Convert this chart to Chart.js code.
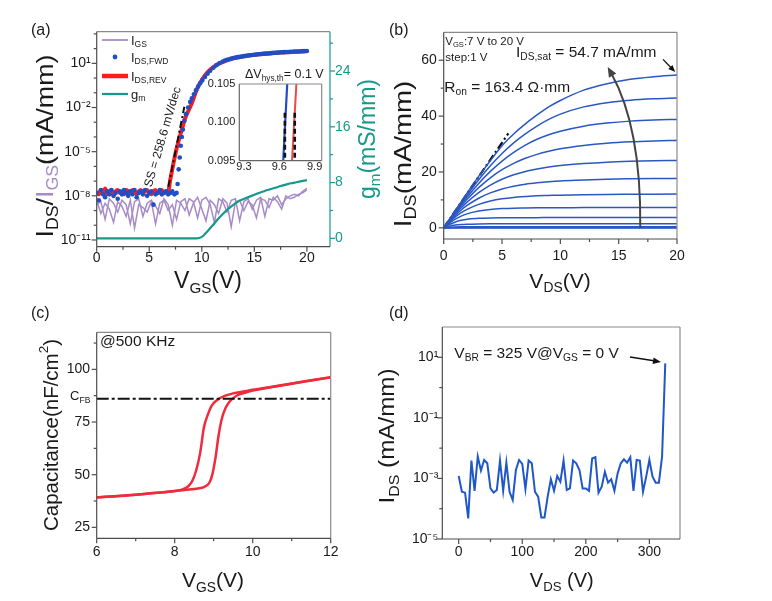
<!DOCTYPE html>
<html>
<head>
<meta charset="utf-8">
<title>Device characteristics</title>
<script src="https://cdn.jsdelivr.net/npm/chart.js@4.4.1/dist/chart.umd.min.js"></script>
<style>
  html, body { margin: 0; padding: 0; background: #fff; }
  #fig { position: relative; width: 772px; height: 601px; overflow: hidden; }
  #fig canvas { position: absolute; }
</style>
</head>
<body>
<div id="fig">
  <canvas id="chartA" width="386" height="300" style="left:0;top:0;width:386px;height:300px"></canvas>
  <canvas id="chartIns" width="140" height="125" style="left:195px;top:55px;width:140px;height:125px"></canvas>
  <canvas id="chartB" width="386" height="300" style="left:386px;top:0;width:386px;height:300px"></canvas>
  <canvas id="chartC" width="386" height="301" style="left:0;top:300px;width:386px;height:301px"></canvas>
  <canvas id="chartD" width="406" height="301" style="left:366px;top:300px;width:406px;height:301px"></canvas>
</div>
<script>
'use strict';

/* ---------- panel (a): transfer curves, log I vs VGS ---------- */
const aRevV = [0,0.2,0.4,0.6,0.8,1,1.2,1.4,1.6,1.8,2,2.2,2.4,2.6,2.8,3,3.2,3.4,3.6,3.8,4,4.2,4.4,4.6,4.8,5,5.2,5.4,5.6,5.8,6,6.2,6.4,6.6,6.8,
  7.0,7.3,7.6,8.1,8.4,9.05,9.5,10.0,10.6,11.4,12.2,13.0,14,15,16.2,17.5,18.8,20];
const aRevLog = [-7.7,-7.9,-7.6,-7.8,-7.5,-7.9,-7.7,-7.6,-8.0,-7.7,-7.6,-7.8,-7.7,-7.9,-7.6,-7.7,-7.8,-7.6,-7.7,-7.9,-7.7,-7.6,-7.8,-7.7,-7.6,-7.8,-7.9,-7.7,-7.6,-7.8,-7.7,-7.6,-7.8,-7.7,-7.7,
  -6.9,-5.8,-4.8,-3.5,-2.75,-1.72,-0.81,-0.13,0.43,0.89,1.15,1.34,1.48,1.58,1.66,1.73,1.78,1.82];

const aFwdV = [0,0.2,0.4,0.6,0.8,1,1.2,1.4,1.6,1.8,2,2.2,2.4,2.6,2.8,3,3.2,3.4,3.6,3.8,4,4.2,4.4,4.6,4.8,5,5.2,5.4,5.6,5.8,6,6.2,6.4,6.6,6.8,7,7.2,7.4,7.6,
  7.7,7.8,7.9,8.0,8.1,8.2,8.35,8.5,8.7,8.9,9.05,9.25,9.45,9.65,9.85,10.05,10.3,10.55,10.8,11.1,11.4,11.7,12.0,
  12.2,12.4,12.6,12.8,13,13.2,13.4,13.6,13.8,14,14.2,14.4,14.6,14.8,15,15.2,15.4,15.6,15.8,16,16.2,16.4,16.6,16.8,17,17.2,17.4,17.6,17.8,18,18.2,18.4,18.6,18.8,19,19.2,19.4,19.6,19.8,20];
const aFwdLog = [-7.8,-8.3,-7.6,-7.9,-8.1,-7.7,-7.9,-7.6,-8.0,-7.8,-8.2,-7.7,-7.9,-7.6,-7.8,-8.0,-7.7,-7.9,-7.6,-8.1,-7.8,-7.7,-7.9,-7.6,-8.0,-7.8,-7.7,-8.6,-7.9,-7.8,-7.6,-7.9,-7.8,-7.7,-7.9,-7.8,-7.7,-7.9,-7.8,
  -7.2,-6.2,-5.4,-4.6,-4.0,-3.5,-2.9,-2.45,-2.0,-1.62,-1.38,-1.1,-0.82,-0.58,-0.36,-0.16,0.08,0.3,0.5,0.7,0.88,1.02,1.13,
  1.19,1.24,1.28,1.32,1.36,1.39,1.42,1.44,1.47,1.49,1.51,1.53,1.55,1.57,1.585,1.6,1.615,1.63,1.645,1.66,1.67,1.68,1.695,1.71,1.72,1.73,1.74,1.75,1.76,1.77,1.775,1.78,1.79,1.80,1.805,1.81,1.82,1.83,1.835,1.84];

const aGsV = [0,0.4,0.8,1.2,1.6,2,2.4,2.8,3.2,3.6,4,4.4,4.8,5.2,5.6,6,6.4,6.8,7.2,7.6,8,8.4,8.8,9.2,9.6,10,10.4,10.8,11.2,11.6,12,12.4,12.8,13.2,13.6,14,14.4,14.8,15.2,15.6,16,16.4,16.8,17.2,17.6,18,18.4,18.8,19.2,19.6,20];
const aGs1Log = [-8.3,-9.2,-8.5,-8.9,-9.8,-8.4,-8.7,-9.4,-8.3,-10.2,-8.6,-8.8,-9.1,-8.4,-9.9,-8.5,-8.3,-9.0,-8.6,-9.6,-8.4,-8.2,-9.3,-8.5,-8.1,-8.9,-9.7,-8.3,-8.6,-9.2,
  -8.2,-8.5,-10.1,-8.4,-8.3,-9.0,-8.4,-8.6,-9.5,-8.2,-8.3,-8.8,-8.1,-8.4,-8.9,-8.0,-8.2,-8.1,-7.9,-7.8,-7.6];
const aGs2Log = [-8.6,-8.4,-9.6,-8.2,-8.5,-9.1,-8.3,-8.6,-9.9,-8.4,-8.2,-9.4,-8.5,-8.3,-8.7,-9.2,-8.2,-8.6,-10.0,-8.3,-8.5,-9.0,-8.2,-8.4,-9.5,-8.3,-8.1,-8.6,-9.8,-8.2,
  -8.4,-9.1,-8.3,-8.2,-9.7,-8.4,-8.2,-8.9,-8.3,-8.1,-9.4,-8.2,-8.3,-8.0,-8.6,-8.2,-8.0,-7.9,-8.0,-7.7,-7.5];

const aGmV = [0,1,2,3,4,5,6,7,8,9,9.5,10,10.5,11,11.5,12,12.5,13,13.5,14,14.5,15,15.5,16,16.5,17,17.5,18,18.5,19,19.5,20];
const aGm = [0,0,0,0,0,0,0,0,0,0,0,0.2,0.95,1.8,2.7,3.5,4.2,4.8,5.3,5.65,5.95,6.25,6.55,6.8,7.05,7.25,7.5,7.7,7.9,8.05,8.2,8.35];

const aSsV = [6.82, 8.34];
const aSsLog = [-7.38, -1.95];

const aXMajor = [0,5,10,15,20], aXMinor = [2.5,7.5,12.5,17.5];
const aYMajor = [1e-11,1e-8,1e-5,1e-2,1e1];
const aYLabels = ['10⁻¹¹','10⁻⁸','10⁻⁵','10⁻²','10¹'];
const aYMinor = [1e-10,1e-9,1e-7,1e-6,1e-4,1e-3,1e-1,1,1e2,1e3];
const aGmMajor = [0,8,16,24], aGmMinor = [4,12,20,28];

/* inset of (a): hysteresis at threshold */
const insFwdV = [9.633, 9.667], insFwdI = [0.095, 0.105];
const insRevV = [9.708, 9.745], insRevI = [0.095, 0.105];
const insMark1V = [9.647, 9.647], insMark2V = [9.731, 9.731], insMarkI = [0.0954, 0.1013];
const insXMajor = [9.3,9.6,9.9], insXLabels = ['9.3','9.6','9.9'];
const insYMajor = [0.095,0.1,0.105], insYLabels = ['0.095','0.100','0.105'];

/* ---------- panel (b): output curves, VGS 7..20 V ---------- */
const bVds = [0,0.5,1,1.5,2,3,4,5,6,7,8,9,10,12,14,16,18,20];
const bI20 = [0,3.1,6.2,9.3,12.4,18.4,24.0,29.4,33.6,37.2,40.4,43.3,45.6,49.3,51.6,53.2,54.1,54.7];
const bI19 = [0,3.0,6.0,8.9,11.7,17.2,22.2,26.6,30.4,33.6,36.4,38.8,40.7,43.3,44.8,45.7,46.2,46.5];
const bI18 = [0,2.9,5.7,8.4,11.0,15.9,20.2,23.9,27.0,29.6,31.7,33.3,34.6,36.4,37.5,38.2,38.6,38.8];
const bI17 = [0,2.8,5.4,7.9,10.2,14.4,17.9,20.8,23.1,24.9,26.3,27.4,28.3,29.5,30.3,30.8,31.1,31.3];
const bI16 = [0,2.6,5.0,7.2,9.2,12.6,15.3,17.4,19.0,20.2,21.1,21.8,22.3,23.0,23.5,23.8,24.0,24.1];
const bI15 = [0,2.4,4.5,6.4,8.0,10.6,12.5,13.9,14.9,15.6,16.1,16.5,16.8,17.1,17.4,17.55,17.65,17.7];
const bI14 = [0,2.1,3.9,5.4,6.6,8.4,9.6,10.4,10.9,11.2,11.5,11.6,11.7,11.85,11.95,12.0,12.05,12.1];
const bI13 = [0,1.7,3.1,4.2,5.0,6.0,6.6,6.9,7.05,7.1,7.15,7.2,7.2,7.25,7.25,7.3,7.3,7.3];
const bI12 = [0,1.2,2.1,2.7,3.1,3.4,3.55,3.6,3.62,3.64,3.65,3.66,3.67,3.68,3.69,3.7,3.7,3.7];
const bI11 = [0,0.6,1.0,1.2,1.3,1.4,1.45,1.47,1.48,1.49,1.5,1.5,1.5,1.5,1.5,1.5,1.5,1.5];
const bI10 = [0,0.2,0.3,0.35,0.38,0.4,0.4,0.4,0.4,0.4,0.4,0.4,0.4,0.4,0.4,0.4,0.4,0.4];
const bI9  = [0,0.05,0.08,0.1,0.1,0.1,0.1,0.1,0.1,0.1,0.1,0.1,0.1,0.1,0.1,0.1,0.1,0.1];
const bI8  = [0,0,0,0,0,0,0,0,0,0,0,0,0,0,0,0,0,0];
const bI7  = [0,0,0,0,0,0,0,0,0,0,0,0,0,0,0,0,0,0];
const bCurves = [bI7,bI8,bI9,bI10,bI11,bI12,bI13,bI14,bI15,bI16,bI17,bI18,bI19,bI20];
const bRonV = [0, 5.54], bRonI = [0, 33.8];
const bXMajor = [0,5,10,15,20], bXMinor = [2.5,7.5,12.5,17.5];
const bYMajor = [0,20,40,60], bYMinor = [10,30,50];

/* ---------- panel (c): C-V hysteresis ---------- */
const cUpV = [6,6.5,7,7.5,8,8.2,8.35,8.45,8.55,8.65,8.75,8.85,8.95,9.1,9.3,9.5,9.8,10,10.5,11,11.5,12];
const cUpC = [39.3,39.8,40.5,41.3,42.3,43.0,44.5,47.0,52.0,60.0,72.5,78.5,82.8,85.6,87.5,88.6,89.6,90.3,91.8,93.3,94.8,96.3];
const cDnV = [6,7,8,8.3,8.5,8.7,8.8,8.9,8.97,9.05,9.12,9.2,9.3,9.42,9.6,9.8,10,10.5,11,11.5,12];
const cDnC = [39.3,40.5,42.2,42.8,43.2,43.8,44.6,46.5,50.5,58.5,68.0,76.0,81.5,85.0,87.6,88.9,89.9,91.6,93.2,94.7,96.2];
const cFbV = [6, 12], cFbC = [86, 86];
const cXMajor = [6,8,10,12], cXMinor = [7,9,11];
const cYMajor = [25,50,75,100], cYMinor = [37.5,62.5,87.5,112.5];

/* ---------- panel (d): off-state breakdown ---------- */
const dV = [0,5,10,15,20,25,30,35,40,45,50,55,60,65,70,75,80,85,90,95,100,105,110,115,120,125,130,135,140,145,150,155,160,165,170,175,180,185,190,195,
  200,205,210,215,220,225,230,235,240,245,250,255,260,265,270,275,280,285,290,295,300,305,310,315,320,325];
const dLog = [-2.92,-3.44,-3.47,-4.32,-2.41,-3.41,-2.28,-2.74,-2.39,-2.5,-3.33,-3.47,-3.38,-2.41,-3.41,-2.48,-3.44,-3.71,-2.72,-2.39,
  -2.52,-3.35,-2.41,-2.5,-3.44,-3.6,-4.29,-4.29,-3.6,-3.03,-3.41,-2.92,-3.11,-2.41,-3.38,-3.33,-2.41,-2.5,-2.72,-3.33,
  -3.33,-3.41,-2.34,-2.3,-3.47,-3.27,-2.78,-3.14,-3.03,-3.41,-2.84,-2.5,-2.37,-2.48,-2.3,-3.41,-2.39,-2.41,-3.44,-2.94,
  -2.39,-2.94,-3.14,-3.14,-2.28,0.8];
const dXMajor = [0,100,200,300], dXMinor = [50,150,250];
const dYMajor = [1e-5,1e-3,1e-1,1e1], dYLabels = ['10⁻⁵','10⁻³','10⁻¹','10¹'];
const dYMinor = [1e-4,1e-2,1];

/* ---------- style ---------- */
const FONT = '"Liberation Sans", Arial, Helvetica, sans-serif';
const INK = '#1a1a1a', AXIS = '#4d4d4d', GREY = '#8a8a8a';
const PURPLE = '#a68bc7', BLUE = '#1f4fc6', RED = '#ff1c1c', TEAL = '#16998b';
const BLUE_B = '#2a57c4', RED_C = '#ef2b3c', BLUE_D = '#2057c8';

Chart.defaults.font.family = FONT;
Chart.defaults.font.size = 14;
Chart.defaults.color = INK;

const xy = (xs, ys) => xs.map((x, i) => ({ x, y: ys[i] }));
const xyLog = (xs, es) => xs.map((x, i) => ({ x, y: Math.pow(10, es[i]) }));

function axis(o) {
  return {
    type: o.type || 'linear', position: o.pos, min: o.min, max: o.max,
    afterBuildTicks: s => { s.ticks = o.major.map(v => ({ value: v })); },
    afterFit: s => { if (o.pos === 'bottom') s.height = o.fit; else s.width = o.fit; },
    grid: { display: false, drawTicks: false },
    border: { display: false },
    ticks: {
      autoSkip: false, maxRotation: 0, padding: o.pad, color: o.color || INK,
      font: { size: o.size || 14 },
      callback: (v, i) => (o.labels ? o.labels[i] : String(v))
    }
  };
}

function rich(ctx, t) {
  const S = t.size || 14;
  let w = 0;
  const segs = t.parts.map(p => {
    const mode = p[1] || 'n';
    const fs = mode === 'n' ? S : S * 0.66;
    ctx.font = fs + 'px ' + FONT;
    const g = { s: p[0], fs, c: p[2] || t.color || INK, x: w,
      dy: mode === 'b' ? S * 0.3 : (mode === 'p' ? -S * 0.36 : 0) };
    w += ctx.measureText(p[0]).width;
    return g;
  });
  ctx.save();
  ctx.translate(t.x, t.y);
  if (t.rot) ctx.rotate(t.rot * Math.PI / 180);
  if (t.sx) ctx.scale(t.sx, 1);
  const x0 = t.align === 'left' ? 0 : -w / 2;
  ctx.textBaseline = 'middle';
  ctx.textAlign = 'left';
  segs.forEach(g => { ctx.font = g.fs + 'px ' + FONT; ctx.fillStyle = g.c; ctx.fillText(g.s, x0 + g.x, g.dy); });
  ctx.restore();
}

function arrow(chart, ar) {
  const ctx = chart.ctx, sx = chart.scales.x, sy = chart.scales.y;
  const P = p => [sx.getPixelForValue(p[0]), sy.getPixelForValue(p[1])];
  const p0 = P(ar.from), p2 = P(ar.to), p1 = ar.via ? P(ar.via) : p0;
  const ang = Math.atan2(p2[1] - p1[1], p2[0] - p1[0]);
  const L = ar.head || 9, H = L * 0.42, c = Math.cos(ang), s = Math.sin(ang);
  ctx.strokeStyle = ar.color; ctx.fillStyle = ar.color; ctx.lineWidth = ar.width || 1.5;
  ctx.beginPath();
  ctx.moveTo(p0[0], p0[1]);
  if (ar.via) ctx.quadraticCurveTo(p1[0], p1[1], p2[0] - L * 0.7 * c, p2[1] - L * 0.7 * s);
  else ctx.lineTo(p2[0] - L * 0.7 * c, p2[1] - L * 0.7 * s);
  ctx.stroke();
  ctx.beginPath();
  ctx.moveTo(p2[0], p2[1]);
  ctx.lineTo(p2[0] - L * c + H * s, p2[1] - L * s - H * c);
  ctx.lineTo(p2[0] - L * c - H * s, p2[1] - L * s + H * c);
  ctx.closePath();
  ctx.fill();
}

function deco(spec) {
  return {
    id: 'deco',
    beforeDatasetsDraw(chart) {
      if (!spec.fill) return;
      const a = chart.chartArea, ctx = chart.ctx;
      ctx.save(); ctx.fillStyle = spec.fill; ctx.fillRect(a.left, a.top, a.width, a.height); ctx.restore();
    },
    afterDraw(chart) {
      const ctx = chart.ctx, a = chart.chartArea;
      ctx.save();
      ctx.lineWidth = 1.2;
      const seg = (col, x1, y1, x2, y2) => {
        if (!col) return;
        ctx.strokeStyle = col; ctx.beginPath(); ctx.moveTo(x1, y1); ctx.lineTo(x2, y2); ctx.stroke();
      };
      const f = spec.frame || {};
      seg(f.top, a.left, a.top, a.right, a.top);
      seg(f.right, a.right, a.top, a.right, a.bottom);
      seg(f.bottom, a.left, a.bottom, a.right, a.bottom);
      seg(f.left, a.left, a.top, a.left, a.bottom);
      (spec.ticks || []).forEach(t => {
        const sc = chart.scales[t.axis], col = t.color || AXIS;
        const mark = (v, len) => {
          const p = sc.getPixelForValue(v);
          if (t.side === 'bottom') seg(col, p, a.bottom, p, a.bottom + len);
          else if (t.side === 'left') seg(col, a.left - len, p, a.left, p);
          else seg(col, a.right, p, a.right + len, p);
        };
        t.major.forEach(v => mark(v, 5));
        (t.minor || []).forEach(v => mark(v, 3));
      });
      (spec.arrows || []).forEach(ar => arrow(chart, ar));
      if (spec.extra) spec.extra(chart, ctx);
      (spec.texts || []).forEach(t => rich(ctx, t));
      ctx.restore();
    }
  };
}

function opts(box, W, scales, rightAxis) {
  return {
    responsive: false, animation: false, events: [],
    layout: { padding: { top: box.t, right: rightAxis ? 0 : W - box.r, left: 0, bottom: 0 } },
    plugins: { legend: { display: false }, tooltip: { enabled: false } },
    scales
  };
}

const line = (data, color, width, extra) => Object.assign({
  data, showLine: true, borderColor: color, borderWidth: width, pointRadius: 0, fill: false
}, extra || {});

/* ---------- (a) ---------- */
function legendA(chart, ctx) {
  const rows = [
    { y: 40, kind: 'line', color: PURPLE, w: 1.8, parts: [['I'], ['GS', 'b']] },
    { y: 57, kind: 'dot', color: BLUE, parts: [['I'], ['DS,FWD', 'b']] },
    { y: 76, kind: 'line', color: RED, w: 4.5, parts: [['I'], ['DS,REV', 'b']] },
    { y: 94, kind: 'line', color: TEAL, w: 2.2, parts: [['g'], ['m', 'b']] }
  ];
  rows.forEach(r => {
    if (r.kind === 'line') {
      ctx.strokeStyle = r.color; ctx.lineWidth = r.w;
      ctx.beginPath(); ctx.moveTo(102, r.y); ctx.lineTo(128, r.y); ctx.stroke();
    } else {
      ctx.fillStyle = r.color; ctx.beginPath(); ctx.arc(115, r.y, 2.4, 0, Math.PI * 2); ctx.fill();
    }
    rich(ctx, { x: 131, y: r.y + 1, size: 13, align: 'left', parts: r.parts });
  });
}

const boxA = { l: 96.7, r: 330, t: 31.7, b: 246.7 };
new Chart(document.getElementById('chartA'), {
  type: 'scatter',
  data: {
    datasets: [
      line(xyLog(aSsV, aSsLog), '#111', 2, { borderDash: [7, 3, 2, 3], order: 0 }),
      { data: xyLog(aFwdV, aFwdLog), showLine: false, pointRadius: 2.3, pointBorderWidth: 0,
        pointBackgroundColor: BLUE, order: 1 },
      line(xy(aGmV, aGm), TEAL, 2.2, { yAxisID: 'y1', cubicInterpolationMode: 'monotone', order: 2 }),
      line(xyLog(aRevV, aRevLog), RED, 4, { cubicInterpolationMode: 'monotone', order: 3 }),
      line(xyLog(aGsV, aGs1Log), PURPLE, 1.5, { order: 4 }),
      line(xyLog(aGsV, aGs2Log), PURPLE, 1.5, { order: 5 })
    ]
  },
  options: opts(boxA, 386, {
    x: axis({ pos: 'bottom', min: 0, max: 22.2, major: aXMajor, fit: 300 - boxA.b, pad: 2.6 }),
    y: axis({ type: 'logarithmic', pos: 'left', min: 3.5e-12, max: 1413, major: aYMajor, labels: aYLabels, fit: boxA.l, pad: 6 }),
    y1: axis({ pos: 'right', min: -1.2, max: 29.64, major: aGmMajor, fit: 386 - boxA.r, pad: 5, color: TEAL })
  }, true),
  plugins: [deco({
    frame: { left: AXIS, bottom: AXIS, top: GREY, right: TEAL },
    ticks: [
      { axis: 'x', side: 'bottom', major: aXMajor, minor: aXMinor },
      { axis: 'y', side: 'left', major: aYMajor, minor: aYMinor },
      { axis: 'y1', side: 'right', major: aGmMajor, minor: aGmMinor, color: TEAL }
    ],
    extra: legendA,
    texts: [
      { x: 31, y: 31, size: 16, align: 'left', parts: [['(a)']] },
      { x: 46, y: 146, size: 24, sx: 1.12, rot: -90, parts: [['I'], ['DS', 'b'], ['/'], ['I', 'n', PURPLE], ['GS', 'b', PURPLE], ['(mA/mm)']] },
      { x: 369, y: 139, size: 23, rot: -90, color: TEAL, parts: [['g'], ['m', 'b'], ['(mS/mm)']] },
      { x: 208, y: 282, size: 23, parts: [['V'], ['GS', 'b'], ['(V)']] },
      { x: 163, y: 137, size: 12, rot: -73.6, parts: [['SS = 258.6 mV/dec']] },
      { x: 245, y: 75, size: 12.5, align: 'left', parts: [['ΔV'], ['hys,th', 'b'], ['= 0.1 V']] }
    ]
  })]
});

/* inset */
const boxI = { l: 44.3, r: 126.7, t: 29, b: 105.7 };
new Chart(document.getElementById('chartIns'), {
  type: 'scatter',
  data: {
    datasets: [
      line(xy(insMark1V, insMarkI), '#111', 2.6, { borderDash: [5, 3] }),
      line(xy(insMark2V, insMarkI), '#111', 2.6, { borderDash: [5, 3] }),
      line(xy(insFwdV, insFwdI), BLUE, 2.2),
      line(xy(insRevV, insRevI), '#f04848', 2)
    ]
  },
  options: opts(boxI, 140, {
    x: axis({ pos: 'bottom', min: 9.26, max: 9.96, major: insXMajor, labels: insXLabels, fit: 125 - boxI.b, pad: 0, size: 11 }),
    y: axis({ pos: 'left', min: 0.095, max: 0.105, major: insYMajor, labels: insYLabels, fit: boxI.l, pad: 4, size: 11 })
  }),
  plugins: [deco({ fill: '#fff', frame: { left: '#666', bottom: '#666', top: '#888', right: '#888' } })]
});

/* ---------- (b) ---------- */
const boxB = { l: 57.7, r: 291, t: 32.3, b: 239 };
const bSets = bCurves.map(c => line(xy(bVds, c), BLUE_B, 1.5, { cubicInterpolationMode: 'monotone' }));
bSets.push(line(xy(bRonV, bRonI), '#111', 2.2, { borderDash: [8, 3, 2, 3] }));
new Chart(document.getElementById('chartB'), {
  type: 'scatter',
  data: { datasets: bSets },
  options: opts(boxB, 386, {
    x: axis({ pos: 'bottom', min: 0, max: 20, major: bXMajor, fit: 300 - boxB.b, pad: 8.3 }),
    y: axis({ pos: 'left', min: -4, max: 70, major: bYMajor, fit: boxB.l, pad: 7 })
  }),
  plugins: [deco({
    frame: { left: AXIS, bottom: AXIS, top: GREY, right: GREY },
    ticks: [
      { axis: 'x', side: 'bottom', major: bXMajor, minor: bXMinor },
      { axis: 'y', side: 'left', major: bYMajor, minor: bYMinor }
    ],
    arrows: [
      { from: [16.85, 0], via: [16.95, 36], to: [14.06, 57.6], color: '#444', width: 2, head: 10 },
      { from: [18.8, 60.3], to: [19.85, 55.8], color: '#111', width: 1.3, head: 7 }
    ],
    texts: [
      { x: 3, y: 31, size: 16, align: 'left', parts: [['(b)']] },
      { x: 18.5, y: 154, size: 24, sx: 1.15, rot: -90, parts: [['I'], ['DS', 'b'], ['(mA/mm)']] },
      { x: 174, y: 282, size: 21, parts: [['V'], ['DS', 'b'], ['(V)']] },
      { x: 59.3, y: 41.7, size: 11.5, align: 'left', parts: [['V'], ['GS', 'b'], [':7 V to 20 V']] },
      { x: 59.3, y: 58.3, size: 11.5, align: 'left', parts: [['step:1 V']] },
      { x: 130, y: 53, size: 15.5, align: 'left', parts: [['I'], ['DS,sat', 'b'], [' = 54.7 mA/mm']] },
      { x: 58.3, y: 87.3, size: 15.5, align: 'left', parts: [['R'], ['on', 'b'], [' = 163.4 Ω·mm']] }
    ]
  })]
});

/* ---------- (c) ---------- */
const boxC = { l: 96.7, r: 330.7, t: 32.3, b: 238.3 };
new Chart(document.getElementById('chartC'), {
  type: 'scatter',
  data: {
    datasets: [
      line(xy(cFbV, cFbC), '#111', 2, { borderDash: [12, 3, 3, 3] }),
      line(xy(cUpV, cUpC), RED_C, 2.5, { cubicInterpolationMode: 'monotone' }),
      line(xy(cDnV, cDnC), RED_C, 2.5, { cubicInterpolationMode: 'monotone' })
    ]
  },
  options: opts(boxC, 386, {
    x: axis({ pos: 'bottom', min: 6, max: 12, major: cXMajor, fit: 301 - boxC.b, pad: 5 }),
    y: axis({ pos: 'left', min: 19.8, max: 117.6, major: cYMajor, fit: boxC.l, pad: 6.7 })
  }),
  plugins: [deco({
    frame: { left: AXIS, bottom: AXIS, top: GREY, right: GREY },
    ticks: [
      { axis: 'x', side: 'bottom', major: cXMajor, minor: cXMinor },
      { axis: 'y', side: 'left', major: cYMajor, minor: cYMinor }
    ],
    texts: [
      { x: 31, y: 14, size: 16, align: 'left', parts: [['(c)']] },
      { x: 52, y: 135, size: 20.5, rot: -90, parts: [['Capacitance(nF/cm'], ['2', 'p'], [')']] },
      { x: 213, y: 281.7, size: 21, parts: [['V'], ['GS', 'b'], ['(V)']] },
      { x: 100, y: 41.7, size: 15.5, align: 'left', parts: [['@500 KHz']] },
      { x: 70, y: 96.7, size: 13, align: 'left', parts: [['C'], ['FB', 'b']] }
    ]
  })]
});

/* ---------- (d) ---------- */
const boxD = { l: 76.3, r: 314, t: 27, b: 239 };
new Chart(document.getElementById('chartD'), {
  type: 'scatter',
  data: { datasets: [line(xyLog(dV, dLog), BLUE_D, 2)] },
  options: opts(boxD, 406, {
    x: axis({ pos: 'bottom', min: -25.8, max: 348.2, major: dXMajor, fit: 301 - boxD.b, pad: 5 }),
    y: axis({ type: 'logarithmic', pos: 'left', min: 1e-5, max: 100, major: dYMajor, labels: dYLabels, fit: boxD.l, pad: 4 })
  }),
  plugins: [deco({
    frame: { left: AXIS, bottom: AXIS, top: GREY, right: GREY },
    ticks: [
      { axis: 'x', side: 'bottom', major: dXMajor, minor: dXMinor },
      { axis: 'y', side: 'left', major: dYMajor, minor: dYMinor }
    ],
    arrows: [{ from: [269.5, 10.2], to: [318.3, 7.0], color: '#111', width: 1.5, head: 8 }],
    texts: [
      { x: 23, y: 14, size: 16, align: 'left', parts: [['(d)']] },
      { x: 22, y: 136, size: 22, sx: 1.1, rot: -90, parts: [['I'], ['DS', 'b'], [' (mA/mm)']] },
      { x: 195.8, y: 281.7, size: 20, parts: [['V'], ['DS', 'b'], [' (V)']] },
      { x: 88.3, y: 53.3, size: 15.5, align: 'left', parts: [['V'], ['BR', 'b'], [' = 325 V@V'], ['GS', 'b'], [' = 0 V']] }
    ]
  })]
});
</script>
</body>
</html>
